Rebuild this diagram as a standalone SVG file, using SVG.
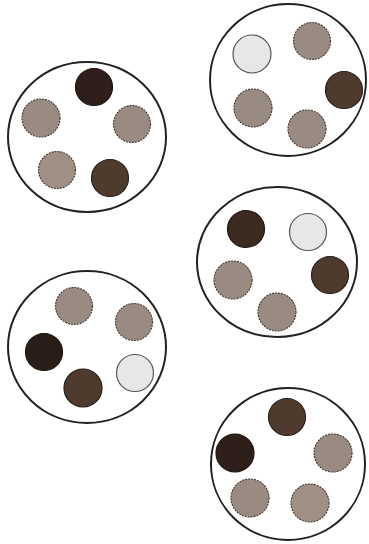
<svg xmlns="http://www.w3.org/2000/svg" width="369" height="544" viewBox="0 0 369 544">
<style>
.plate{fill:#fff;stroke:#222;stroke-width:2}
.d{fill:#2e1f1a;stroke:#1e1410;stroke-width:1.2}
.md{fill:#4f3b2e;stroke:#2a1e18;stroke-width:1.2}
.m{fill:#9a8b82;stroke:#4a3e38;stroke-width:1.2;stroke-dasharray:2 1}
.l{fill:#e8e6e6;stroke:#555;stroke-width:1.2}
</style>
<rect width="369" height="544" fill="#fff"/>
<g id="plate1">
<ellipse class="plate" cx="87" cy="137" rx="79" ry="75"/>
<circle class="d" cx="94" cy="87" r="18.5"/>
<circle class="m" cx="41" cy="118" r="19"/>
<circle class="m" cx="132" cy="124" r="18.5"/>
<circle class="m" cx="57" cy="170" r="18.5" style="fill:#a08f85"/>
<circle class="md" cx="110" cy="178" r="18.5"/>
</g>
<g id="plate2">
<ellipse class="plate" cx="288" cy="80" rx="78" ry="76"/>
<circle class="l" cx="252" cy="54" r="19"/>
<circle class="m" cx="312" cy="41" r="18.5"/>
<circle class="md" cx="344" cy="90" r="18.5"/>
<circle class="m" cx="253" cy="108" r="19"/>
<circle class="m" cx="307" cy="129" r="19"/>
</g>
<g id="plate3">
<ellipse class="plate" cx="277" cy="262" rx="80" ry="75"/>
<circle class="d" cx="246" cy="229" r="18.5" style="fill:#3a2a20"/>
<circle class="l" cx="308" cy="232" r="18.5"/>
<circle class="md" cx="330" cy="275" r="18.5"/>
<circle class="m" cx="233" cy="280" r="19"/>
<circle class="m" cx="277" cy="312" r="19"/>
</g>
<g id="plate4">
<ellipse class="plate" cx="87" cy="347" rx="79" ry="76"/>
<circle class="m" cx="74" cy="306" r="18.5"/>
<circle class="m" cx="134" cy="322" r="18.5"/>
<circle class="d" cx="44" cy="352" r="18.5" style="fill:#2a1d18"/>
<circle class="md" cx="83" cy="388" r="19"/>
<circle class="l" cx="135" cy="373" r="18.5"/>
</g>
<g id="plate5">
<ellipse class="plate" cx="288" cy="464" rx="77" ry="76"/>
<circle class="md" cx="287" cy="417" r="18.5"/>
<circle class="d" cx="235" cy="453" r="19"/>
<circle class="m" cx="333" cy="453" r="19"/>
<circle class="m" cx="250" cy="498" r="19"/>
<circle class="m" cx="310" cy="503" r="19" style="fill:#a08f85"/>
</g>
<g id="connectors"/>
</svg>
